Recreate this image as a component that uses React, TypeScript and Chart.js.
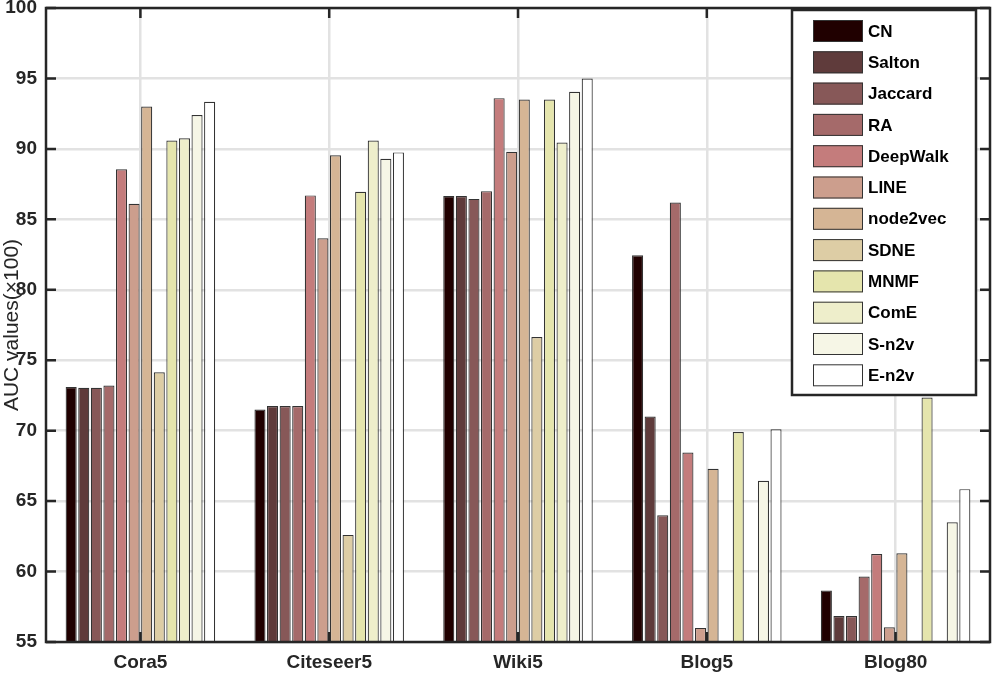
import React, { useEffect, useRef } from "react";
import { Chart, registerables } from "chart.js";

Chart.register(...registerables);

const categories = ["Cora5", "Citeseer5", "Wiki5", "Blog5", "Blog80"];
const methods = ["CN", "Salton", "Jaccard", "RA", "DeepWalk", "LINE", "node2vec", "SDNE", "MNMF", "ComE", "S-n2v", "E-n2v"];
const colors = ["#200000", "#5f3b3b", "#875858", "#a56a6a", "#c47c7c", "#cc9e8d", "#d5b595", "#ddcda5", "#e5e5ad", "#eeeecb", "#f6f6e6", "#ffffff"];

const cnValues = [73.1, 71.5, 86.65, 82.45, 58.65];
const saltonValues = [73.05, 71.75, 86.65, 71.0, 56.85];
const jaccardValues = [73.05, 71.75, 86.45, 64.0, 56.85];
const raValues = [73.2, 71.75, 87.0, 86.2, 59.65];
const deepWalkValues = [88.55, 86.7, 93.6, 68.45, 61.25];
const lineValues = [86.1, 83.65, 89.8, 56.0, 56.05];
const node2vecValues = [93.0, 89.55, 93.5, 67.3, 61.3];
const sdneValues = [74.15, 62.6, 76.65, null, null];
const mnmfValues = [90.6, 86.95, 93.5, 69.9, 72.35];
const comeValues = [90.75, 90.6, 90.45, null, null];
const sn2vValues = [92.4, 89.3, 94.05, 66.45, 63.5];
const en2vValues = [93.35, 89.75, 95.0, 70.1, 65.85];

const seriesValues = [
  cnValues, saltonValues, jaccardValues, raValues, deepWalkValues, lineValues,
  node2vecValues, sdneValues, mnmfValues, comeValues, sn2vValues, en2vValues,
];

const yMin = 55;
const yMax = 100;
const yStep = 5;

const FONT = "'Liberation Sans', Arial, Helvetica, sans-serif";
const AXIS = "#262626";

const framePlugin = {
  id: "frame",
  afterDatasetsDraw(chart: any) {
    const { ctx, chartArea } = chart;
    const { left, right, top, bottom } = chartArea;
    const yScale = chart.scales.y;
    const xScale = chart.scales.x;
    ctx.save();
    ctx.strokeStyle = AXIS;
    ctx.lineWidth = 2.5;
    const tl = 10;
    for (const t of yScale.ticks) {
      const py = yScale.getPixelForValue(t.value);
      ctx.beginPath();
      ctx.moveTo(left, py);
      ctx.lineTo(left + tl, py);
      ctx.moveTo(right - tl, py);
      ctx.lineTo(right, py);
      ctx.stroke();
    }
    for (let i = 0; i < categories.length; i++) {
      const px = xScale.getPixelForValue(i);
      ctx.beginPath();
      ctx.moveTo(px, bottom);
      ctx.lineTo(px, bottom - tl);
      ctx.moveTo(px, top);
      ctx.lineTo(px, top + tl);
      ctx.stroke();
    }
    ctx.strokeRect(left, top, right - left, bottom - top);

    // legend
    const lx = 792, ly = 10, lw = 184, lh = 385;
    ctx.fillStyle = "#ffffff";
    ctx.fillRect(lx, ly, lw, lh);
    ctx.lineWidth = 2.5;
    ctx.strokeStyle = AXIS;
    ctx.strokeRect(lx, ly, lw, lh);
    ctx.font = `bold 17px ${FONT}`;
    ctx.textBaseline = "middle";
    ctx.textAlign = "left";
    chart.data.datasets.forEach((ds: any, i: number) => {
      const cy = 31 + i * 31.3;
      ctx.fillStyle = ds.backgroundColor;
      ctx.fillRect(813, cy - 11, 50, 22);
      ctx.lineWidth = 1;
      ctx.strokeStyle = "#333333";
      ctx.strokeRect(813.5, cy - 10.5, 49, 21);
      ctx.fillStyle = "#000000";
      ctx.fillText(ds.label, 868, cy + 1);
    });
    ctx.restore();
  },
};

export default function App() {
  const ref = useRef<HTMLCanvasElement | null>(null);

  useEffect(() => {
    if (!ref.current) return;
    const chart = new Chart(ref.current, {
      type: "bar",
      data: {
        labels: categories,
        datasets: methods.map((m, i) => ({
          label: m,
          data: seriesValues[i],
          backgroundColor: colors[i],
          borderColor: "#333333",
          borderWidth: 1.2,
          borderSkipped: false,
          categoryPercentage: 0.8,
          barPercentage: 0.88,
        })),
      },
      options: {
        responsive: false,
        animation: false,
        devicePixelRatio: 1,
        layout: { padding: { top: 8, right: 7, left: 0, bottom: 0 } },
        plugins: {
          legend: { display: false },
          tooltip: { enabled: false },
        },
        scales: {
          x: {
            grid: { offset: false, color: "#e2e2e2", lineWidth: 2.5, drawTicks: false },
            border: { display: false },
            ticks: {
              color: AXIS,
              font: { family: FONT, size: 19, weight: "bold" },
              padding: 9,
              maxRotation: 0,
            },
            afterFit(scale: any) {
              scale.height = 34;
              scale.paddingLeft = 0;
              scale.paddingRight = 0;
            },
          },
          y: {
            min: yMin,
            max: yMax,
            grid: { color: "#e2e2e2", lineWidth: 2.5, drawTicks: false },
            border: { display: false },
            ticks: {
              stepSize: yStep,
              color: AXIS,
              font: { family: FONT, size: 19, weight: "bold" },
              padding: 9,
            },
            title: {
              display: true,
              text: "AUC values(×100)",
              color: AXIS,
              font: { family: FONT, size: 21 },
              padding: { top: 0, bottom: 0 },
            },
            afterFit(scale: any) {
              scale.width = 46;
              scale.paddingTop = 0;
              scale.paddingBottom = 0;
            },
          },
        },
      },
      plugins: [framePlugin],
    });
    return () => chart.destroy();
  }, []);

  return (
    <div style={{ position: "fixed", left: 0, top: 0, width: 997, height: 676, background: "#fff" }}>
      <canvas ref={ref} width={997} height={676} style={{ display: "block" }} />
    </div>
  );
}
